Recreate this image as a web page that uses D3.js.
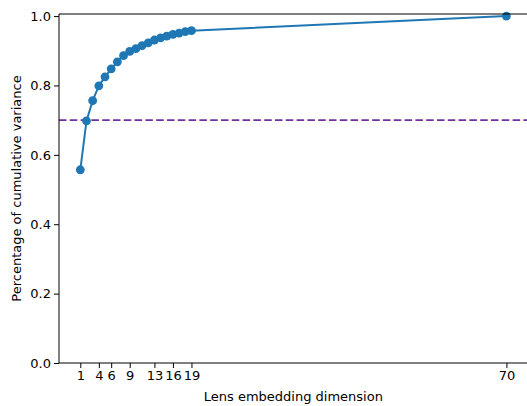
<!DOCTYPE html>
<html>
<head>
<meta charset="utf-8">
<script src="https://cdn.jsdelivr.net/npm/d3@7"></script>
<style>
  body { margin: 0; background: #fff; }
  svg text { font-family: "DejaVu Sans", sans-serif; fill: #000; }
</style>
</head>
<body>
<svg id="chart" width="527" height="406"></svg>
<script>
// embedding dimensions and their cumulative variance share
const dims = [1, 2, 3, 4, 5, 6, 7, 8, 9, 10, 11, 12, 13, 14, 15, 16, 17, 18, 19, 70]
const variance = [0.557, 0.698, 0.756, 0.799, 0.825, 0.848, 0.868, 0.886, 0.898, 0.906,
  0.915, 0.923, 0.931, 0.937, 0.942, 0.947, 0.951, 0.955, 0.958, 1.0]
const xTicks = [1, 4, 6, 9, 13, 16, 19, 70]
const yTicks = [0, 0.2, 0.4, 0.6, 0.8, 1.0]
const threshold = 0.7

const svg = d3.select('#chart')
const plotLeft = 59, plotTop = 14, plotBottom = 363
const pad = (70 - 1) * 0.05

const x = d3.scaleLinear().domain([1 - pad, 70 + pad]).range([plotLeft, 80.7 + (70 + pad - 1) * 6.17])
const y = d3.scaleLinear().domain([0, 1.006]).range([plotBottom, plotTop])
const plotRight = x.range()[1]

const blue = '#1f77b4'

// threshold line
svg.append('line')
  .attr('x1', plotLeft).attr('x2', plotRight)
  .attr('y1', y(threshold)).attr('y2', y(threshold))
  .attr('stroke', '#7030a0')
  .attr('stroke-width', 1.8)
  .attr('stroke-dasharray', '7.5,3.3')

// curve
const line = d3.line().x((d, i) => x(dims[i])).y(d => y(d))
svg.append('path')
  .datum(variance)
  .attr('d', line)
  .attr('fill', 'none')
  .attr('stroke', blue)
  .attr('stroke-width', 2)

svg.append('g')
  .selectAll('circle')
  .data(variance)
  .enter().append('circle')
  .attr('cx', (d, i) => x(dims[i]))
  .attr('cy', d => y(d))
  .attr('r', 4.4)
  .attr('fill', blue)

// axes
const xAxis = svg.append('g')
  .attr('transform', `translate(0,${plotBottom})`)
  .call(d3.axisBottom(x).tickValues(xTicks).tickSize(5).tickPadding(3).tickFormat(d3.format('d')))
const yAxis = svg.append('g')
  .attr('transform', `translate(${plotLeft},0)`)
  .call(d3.axisLeft(y).tickValues(yTicks).tickSize(5).tickPadding(3).tickFormat(d3.format('.1f')))

;[xAxis, yAxis].forEach(g => {
  g.select('.domain').attr('stroke', '#000').attr('stroke-width', 1)
  g.selectAll('.tick line').attr('stroke', '#000').attr('stroke-width', 1)
  g.selectAll('.tick text').attr('font-size', 13).attr('font-family', '"DejaVu Sans", sans-serif')
})
xAxis.select('.domain').attr('d', `M${plotLeft},0H${plotRight}`)
yAxis.select('.domain').attr('d', `M0,${plotBottom}V${plotTop}`)

// top spine
svg.append('line')
  .attr('x1', plotLeft).attr('x2', plotRight)
  .attr('y1', plotTop).attr('y2', plotTop)
  .attr('stroke', '#000').attr('stroke-width', 1)

// labels
svg.append('text')
  .attr('x', (plotLeft + plotRight) / 2)
  .attr('y', 401)
  .attr('text-anchor', 'middle')
  .attr('font-size', 13)
  .text('Lens embedding dimension')

svg.append('text')
  .attr('transform', `translate(21,${(plotTop + plotBottom) / 2}) rotate(-90)`)
  .attr('text-anchor', 'middle')
  .attr('font-size', 13)
  .text('Percentage of cumulative variance')
</script>
</body>
</html>
